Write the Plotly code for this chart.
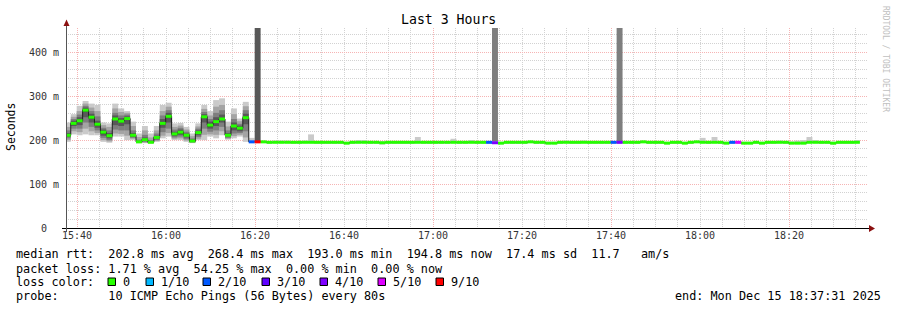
import plotly.graph_objects as go
import pandas as pd
import numpy as np

# ---------------- data ----------------
START = "2025-12-15 15:37:15"          # start of first 80 s step
STEP_S = 80
X_RANGE = ["2025-12-15 15:37:31", "2025-12-15 18:37:31"]
Y_MAX = 455                            # canvas top (lost / huge pings reach it)

# noisy section, 31 steps, 10 sorted pings per step (ms)
ping1 = [196,213,211,213,211,211,196,194,208,208,200,200,193,193,193,196,204,208,200,200,196,193,200,200,208,204,211,201,204,208,196]
ping2 = [200,220,218,226,220,216,200,197,215,214,210,203,194,194,193,198,210,216,203,204,199,194,203,212,213,212,220,203,209,212,206]
ping3 = [204,226,226,240,230,222,205,200,224,222,222,205,194,196,194,200,218,226,206,208,202,195,207,226,219,222,230,205,215,216,220]
ping4 = [207,232,234,252,240,228,210,204,234,232,236,207,195,198,194,202,228,240,209,212,206,196,211,240,226,232,240,208,222,220,236]
ping5 = [210,236,242,266,250,234,216,208,246,240,247,210,196,200,195,205,236,252,213,216,210,197,216,251,232,240,246,210,230,225,248]
ping6 = [212,240,246,270,254,238,220,212,250,246,251,212,196,202,195,207,240,256,215,220,212,199,218,255,236,244,250,212,234,229,254]
ping7 = [216,244,252,274,260,244,224,216,256,250,254,216,198,206,197,210,248,262,219,224,215,201,222,259,242,252,258,216,240,233,260]
ping8 = [222,248,258,278,266,254,228,222,262,256,258,222,201,212,200,215,256,268,224,228,219,204,226,264,248,262,268,222,248,237,268]
ping9 = [230,253,266,283,274,266,234,230,272,264,262,232,207,222,206,222,266,276,230,233,224,209,231,271,256,276,280,231,259,243,277]
ping10 = [240,259,278,289,283,280,240,238,283,272,266,242,215,232,215,232,280,285,238,239,230,215,238,280,266,291,295,242,272,249,287]
noisy_median = [211,238,244,268,252,236,218,210,248,243,249,211,196,201,195,206,238,254,214,218,211,198,217,253,234,242,248,211,232,227,251]
noisy_loss = [0] * 31

# flat section, 103 steps (median, min, max ping in ms, lost pings of 10)
flat_median = [196,196,196,195,195,195,195,195,195,195,
               195,195,195,195,195,195,193,195,195,195,
               195,195,194,195,195,195,195,195,195,195,
               195,195,195,195,195,195,195,195,195,195,
               195,194,193,195,195,195,195,196,195,195,
               193,193,195,195,195,195,195,195,195,195,
               195,195,195,195,195,195,196,195,195,195,
               193,195,195,193,195,196,195,195,195,195,
               193,195,195,193,193,195,193,195,195,195,
               195,193,193,193,195,195,195,195,193,195,
               195,195,195]
flat_lo = [194,195,194,193,193,193,193,193,193,193,
           193,193,193,193,193,193,191,193,193,193,
           193,193,190,193,193,193,193,193,193,193,
           193,193,193,193,193,193,193,193,193,193,
           193,193,191,193,193,193,193,194,193,193,
           191,191,193,193,193,193,193,193,193,193,
           193,193,193,193,193,193,194,193,193,193,
           191,193,193,191,193,194,193,193,193,193,
           191,193,193,191,191,193,191,193,193,193,
           193,191,191,191,193,193,193,193,190,193,
           193,193,193]
flat_hi = [205,198,198,197,199,199,199,197,197,199,
           213,197,197,197,197,197,196,197,200,200,
           197,197,197,197,197,197,197,197,207,197,
           197,197,197,197,203,197,197,200,197,197,
           197,197,196,197,197,197,197,198,197,197,
           196,196,197,199,197,197,199,197,197,197,
           197,197,197,197,197,197,198,197,197,197,
           196,197,197,196,197,198,205,197,207,197,
           196,197,197,196,196,197,196,197,197,199,
           197,197,199,200,207,200,197,197,196,197,
           197,197,200]
flat_loss = [2,9,0,0,0,0,0,0,0,0,
             0,0,0,0,0,0,0,0,0,0,
             0,0,0,0,0,0,0,0,0,0,
             0,0,0,0,0,0,0,0,0,0,
             2,4,0,0,0,0,0,0,0,0,
             0,0,0,0,0,0,0,0,0,0,
             0,2,4,0,0,0,0,0,0,0,
             0,0,0,0,0,0,0,0,0,0,
             0,2,5,0,0,0,0,0,0,0,
             0,0,0,0,0,0,0,0,0,0,
             0,0,0]

# steps whose lost/slow pings run off the top of the canvas
spike_cols = [32, 72, 93]
spike_base = [197, 197, 197]
spike_shade = ["#585858", "#7e7e7e", "#7e7e7e"]

loss_levels = [0, 1, 2, 3, 4, 5, 9]
loss_labels = ["0", "1/10", "2/10", "3/10", "4/10", "5/10", "9/10"]
loss_colors = ["#26ff00", "#00b8ff", "#0059ff", "#5e00ff", "#7e00ff", "#dd00ff", "#ff0000"]
smoke_shades = ["#cacaca", "#a4a4a4", "#7e7e7e", "#585858", "#323232"]

stats_rtt = ["202.8 ms avg", "268.4 ms max", "193.0 ms min", "194.8 ms now", "17.4 ms sd", "11.7   am/s"]
stats_loss = ["1.71 % avg", "54.25 % max", "0.00 % min", "0.00 % now"]
probe_text = "10 ICMP Echo Pings (56 Bytes) every 80s"
end_text = "end: Mon Dec 15 18:37:31 2025"
title_text = "Last 3 Hours"

# ---------------- build ----------------
FONT = "DejaVu Sans Mono"
W, H = 897, 310
L, R, T, B = 66, 30, 28, 82
PW, PH = W - L - R, H - T - B

def px(x):
    return (x - L) / PW

def py(y):
    return (H - B - y) / PH

def nb(s):
    return s.replace(" ", "\u00a0")

n_noisy = len(noisy_median)
median = noisy_median + flat_median
loss = noisy_loss + flat_loss
N = len(median)
starts = pd.date_range(START, periods=N, freq=f"{STEP_S}s")
ends = starts + pd.Timedelta(seconds=STEP_S)
centers = starts + pd.Timedelta(seconds=STEP_S / 2)
WIDTH_MS = STEP_S * 1000

fig = go.Figure()

pings = [ping1, ping2, ping3, ping4, ping5, ping6, ping7, ping8, ping9, ping10]
for i in range(5):
    lo = np.array(pings[i])
    hi = np.array(pings[9 - i])
    fig.add_trace(go.Bar(x=centers[:n_noisy], y=hi - lo, base=lo, width=WIDTH_MS,
                         marker=dict(color=smoke_shades[i], line=dict(width=0)),
                         hoverinfo="skip", showlegend=False))

flo = np.array(flat_lo)
fhi = np.array(flat_hi)
fig.add_trace(go.Bar(x=centers[n_noisy:], y=fhi - flo, base=flo, width=WIDTH_MS,
                     marker=dict(color=smoke_shades[0], line=dict(width=0)),
                     hoverinfo="skip", showlegend=False))

fig.add_trace(go.Bar(x=centers[spike_cols], y=[Y_MAX - b for b in spike_base], base=spike_base,
                     width=WIDTH_MS, marker=dict(color=spike_shade, line=dict(width=0)),
                     hoverinfo="skip", showlegend=False))

# black median step line
fig.add_trace(go.Scatter(x=centers, y=median, mode="lines", line=dict(color="#202020", width=1, shape="hvh"),
                         hoverinfo="skip", showlegend=False))

# coloured median segments by loss
for lvl, col in zip(loss_levels, loss_colors):
    xs, ys = [], []
    for k in range(N):
        if loss[k] == lvl:
            xs += [starts[k], ends[k], None]
            ys += [median[k], median[k], None]
    if xs:
        fig.add_trace(go.Scatter(x=xs, y=ys, mode="lines", line=dict(color=col, width=3),
                                 hoverinfo="skip", showlegend=False, connectgaps=False))

# overlay axis carrying the major (red) vertical grid
fig.add_trace(go.Scatter(x=[X_RANGE[0]], y=[0], xaxis="x2", mode="markers",
                         marker=dict(opacity=0), hoverinfo="skip", showlegend=False))

GREY = "#d2d2d2"
RED = "#f6b4b4"
DASH = "1px,1px"

fig.update_layout(
    width=W, height=H, margin=dict(l=L, r=R, t=T, b=B),
    paper_bgcolor="white", plot_bgcolor="white",
    barmode="overlay", showlegend=False,
    font=dict(family=FONT, color="#000"),
    xaxis=dict(type="date", range=X_RANGE, tickformat="%H:%M", dtick=20 * 60 * 1000,
               tick0="2025-12-15 15:40:00", showgrid=True, gridcolor=GREY, griddash=DASH, gridwidth=1,
               minor=dict(dtick=5 * 60 * 1000, tick0="2025-12-15 15:40:00", showgrid=True,
                          gridcolor=GREY, griddash=DASH, gridwidth=1),
               showline=False, zeroline=False, ticks="",
               tickfont=dict(family=FONT, size=10, color="#333")),
    xaxis2=dict(type="date", range=X_RANGE, overlaying="x", dtick=40 * 60 * 1000,
                tick0="2025-12-15 15:40:00", showgrid=True, gridcolor=RED, griddash=DASH,
                showticklabels=False, showline=False, zeroline=False, ticks=""),
    yaxis=dict(range=[0, Y_MAX], tickvals=[0, 100, 200, 300, 400],
               ticktext=["0\u00a0\u00a0", "100 m", "200 m", "300 m", "400 m"],
               showgrid=True, gridcolor=RED, griddash=DASH, gridwidth=1,
               minor=dict(dtick=20, showgrid=True, gridcolor=GREY, griddash=DASH, gridwidth=1),
               zeroline=False, showline=False, ticks="", ticklabelstandoff=6,
               tickfont=dict(family=FONT, size=10, color="#333")),
)

shapes = []
# axes lines
shapes.append(dict(type="line", xref="paper", yref="paper", x0=px(62), x1=px(869), y0=py(228.5), y1=py(228.5),
                   line=dict(color="#000", width=1)))
shapes.append(dict(type="line", xref="paper", yref="paper", x0=px(66.5), x1=px(66.5), y0=py(232), y1=py(24),
                   line=dict(color="#555", width=1)))
# arrows
shapes.append(dict(type="path", xref="paper", yref="paper",
                   path=f"M {px(63.5)} {py(26)} L {px(69.5)} {py(26)} L {px(66.5)} {py(19.5)} Z",
                   fillcolor="#8b1010", line=dict(width=0)))
shapes.append(dict(type="path", xref="paper", yref="paper",
                   path=f"M {px(869)} {py(225)} L {px(869)} {py(232)} L {px(875)} {py(228.5)} Z",
                   fillcolor="#8b1010", line=dict(width=0)))

annotations = []
def text(x, y, s, size=11.8, anchor="left", color="#000", angle=0):
    annotations.append(dict(xref="paper", yref="paper", x=px(x), y=py(y), text=nb(s), showarrow=False,
                            xanchor=anchor, yanchor="middle", textangle=angle, borderpad=0,
                            font=dict(family=FONT, size=size, color=color)))

text(448, 19.5, title_text, size=13.2, anchor="center")
text(11, 127, "Seconds", size=11.5, anchor="center", angle=-90)
text(886, 59, "RRDTOOL / TOBI OETIKER", size=8, anchor="center", color="#c0c0c0", angle=90)

LX = 15
text(LX, 254, "median rtt:  " + "  ".join(stats_rtt))
text(LX, 268.5, "packet loss: " + "  ".join(stats_loss))
text(LX, 282, "loss color:")
text(LX, 296, "probe:       " + probe_text)
text(882, 296, end_text, anchor="right")

box_x = [108, 146, 203, 262, 320, 378, 436]
for bx, lab, col in zip(box_x, loss_labels, loss_colors):
    shapes.append(dict(type="rect", xref="paper", yref="paper", x0=px(bx), x1=px(bx + 7.5),
                       y0=py(278), y1=py(285.5), fillcolor=col, line=dict(color="#000", width=1)))
    text(bx + 13.5, 282, lab)

fig.update_layout(shapes=shapes, annotations=annotations)
fig.write_html("out.html")
